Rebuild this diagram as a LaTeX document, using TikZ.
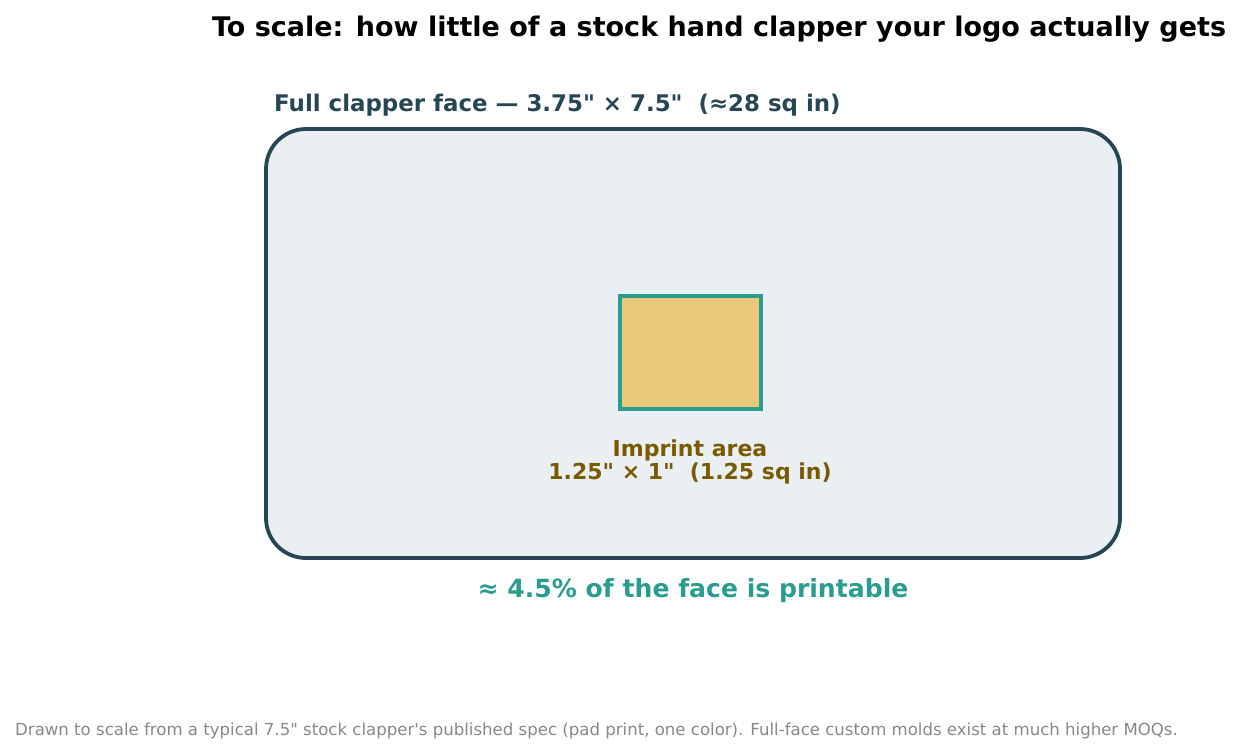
\documentclass[tikz,border=0pt]{standalone}
\usepackage{fontspec}
\setmainfont{DejaVu Sans}[Ligatures=TeXOff]
\definecolor{slate}{HTML}{264653}
\definecolor{facefill}{HTML}{E9EFF2}
\definecolor{teal}{HTML}{2A9D8F}
\definecolor{gold}{HTML}{E9C77B}
\definecolor{brown}{HTML}{7A5A00}
\definecolor{note}{HTML}{888888}
\tikzset{
  face/.style={draw=slate, fill=facefill, line width=3.8pt, rounded corners=40pt},
  imprint/.style={draw=teal, fill=gold, line width=3.8pt},
  lbl/.style={inner sep=0pt},
}
\begin{document}
\begin{tikzpicture}[x=1pt,y=-1pt]
\useasboundingbox (0,0) rectangle (1241,752);
\draw[face] (266,129) rectangle (1120,558);
\draw[imprint] (620,296) rectangle (761,409);
\node[lbl, font=\fontsize{27}{32}\selectfont\bfseries] (title) at (719,29) {To scale: how little of a stock hand clapper your logo actually gets};
\node[lbl, anchor=west, text=slate, font=\fontsize{22.9}{27}\selectfont\bfseries] (facelbl) at (274,105) {Full clapper face — 3.75" × 7.5"\ \ (≈28 sq in)};
\node[lbl, text=brown, align=center, font=\fontsize{22}{23.5}\selectfont\bfseries] (implbl) at (690,462) {Imprint area\\1.25" × 1"\ \ (1.25 sq in)};
\node[lbl, text=teal, font=\fontsize{25.1}{30}\selectfont\bfseries] (pct) at (693,591) {≈ 4.5\% of the face is printable};
\node[lbl, anchor=west, text=note, font=\fontsize{16.57}{20}\selectfont] (foot) at (15,731) {Drawn to scale from a typical 7.5" stock clapper's published spec (pad print, one color). Full-face custom molds exist at much higher MOQs.};
\end{tikzpicture}
\end{document}
